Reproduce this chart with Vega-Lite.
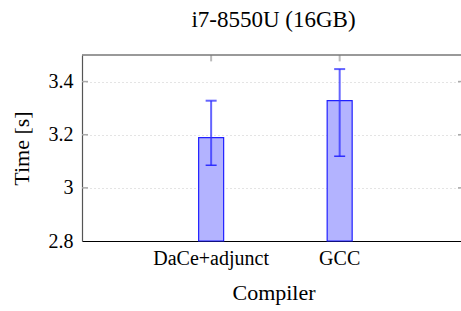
{
  "$schema": "https://vega.github.io/schema/vega-lite/v6.json",
  "autosize": "none",
  "width": 383,
  "height": 186,
  "padding": {"left": 82, "top": 55, "right": 0, "bottom": 70},
  "background": "white",
  "config": {
    "font": "Liberation Serif, DejaVu Serif, serif",
    "view": {"stroke": null},
    "axis": {"labelFont": "Liberation Serif, DejaVu Serif, serif", "titleFont": "Liberation Serif, DejaVu Serif, serif"},
    "title": {"font": "Liberation Serif, DejaVu Serif, serif", "fontSize": 23, "fontWeight": "normal", "color": "black", "anchor": "middle", "offset": 22}
  },
  "title": "i7-8550U (16GB)",
  "data": {
    "values": [
      {"Compiler": "DaCe+adjunct", "time": 3.189, "lo": 3.085, "hi": 3.328, "top": 3.5, "top2": 3.476},
      {"Compiler": "GCC", "time": 3.328, "lo": 3.119, "hi": 3.447, "top": 3.5, "top2": 3.476}
    ]
  },
  "layer": [
    {
      "mark": {"type": "bar", "size": 25, "fill": "#b3b3ff", "stroke": "#2020ff", "strokeWidth": 1.2},
      "encoding": {
        "x": {
          "field": "Compiler", "type": "nominal", "sort": null,
          "scale": {"paddingInner": 0.5, "paddingOuter": 0.74, "align": 0.51},
          "axis": {
            "title": "Compiler", "titleFontSize": 22, "titleFontWeight": "normal", "titleColor": "black", "titlePadding": 14,
            "labelFontSize": 20, "labelColor": "black", "labelAngle": 0, "labelPadding": 7,
            "ticks": false, "domainColor": "black", "domainWidth": 1.2, "grid": false
          }
        },
        "y": {
          "field": "time", "type": "quantitative",
          "scale": {"domain": [2.8, 3.5], "nice": false, "zero": false},
          "axis": {
            "title": "Time [s]", "titleFontSize": 22, "titleFontWeight": "normal", "titleColor": "black", "titlePadding": 15,
            "values": [2.8, 3, 3.2, 3.4], "format": "~g", "labelFontSize": 20, "labelColor": "black", "labelPadding": 9,
            "tickSize": 0, "domainColor": "#555555", "domainWidth": 1.2,
            "grid": true, "gridColor": "#c8c8c8", "gridDash": [1, 3], "gridWidth": 1
          }
        },
        "y2": {"datum": 2.8}
      }
    },
    {
      "mark": {"type": "rule", "color": "#3030ff", "opacity": 0.75, "strokeWidth": 2},
      "encoding": {
        "x": {"field": "Compiler", "type": "nominal", "sort": null},
        "y": {"field": "lo", "type": "quantitative"},
        "y2": {"field": "hi"}
      }
    },
    {
      "mark": {"type": "tick", "color": "#3030ff", "opacity": 0.75, "size": 11, "thickness": 2},
      "encoding": {
        "x": {"field": "Compiler", "type": "nominal", "sort": null},
        "y": {"field": "hi", "type": "quantitative"}
      }
    },
    {
      "mark": {"type": "tick", "color": "#2020ff", "opacity": 0.9, "size": 11, "thickness": 1.5},
      "encoding": {
        "x": {"field": "Compiler", "type": "nominal", "sort": null},
        "y": {"field": "lo", "type": "quantitative"}
      }
    },
    {
      "mark": {"type": "rule", "color": "#bbbbbb", "strokeWidth": 2},
      "encoding": {
        "x": {"field": "Compiler", "type": "nominal", "sort": null},
        "y": {"field": "top", "type": "quantitative"},
        "y2": {"field": "top2"}
      }
    },
    {
      "mark": {"type": "rule", "color": "#777777", "strokeWidth": 1.5},
      "data": {"values": [{"v": 3.5}]},
      "encoding": {"y": {"field": "v", "type": "quantitative"}}
    },
    {
      "mark": {"type": "rule", "color": "#aaaaaa", "strokeWidth": 1.5},
      "data": {"values": [{"v": 3.0}, {"v": 3.2}, {"v": 3.4}]},
      "encoding": {
        "x": {"value": 0},
        "x2": {"value": 6},
        "y": {"field": "v", "type": "quantitative"}
      }
    },
    {
      "mark": {"type": "rule", "color": "#aaaaaa", "strokeWidth": 1.5},
      "data": {"values": [{"v": 3.0}, {"v": 3.2}, {"v": 3.4}]},
      "encoding": {
        "x": {"value": 376},
        "x2": {"value": 383},
        "y": {"field": "v", "type": "quantitative"}
      }
    }
  ]
}
